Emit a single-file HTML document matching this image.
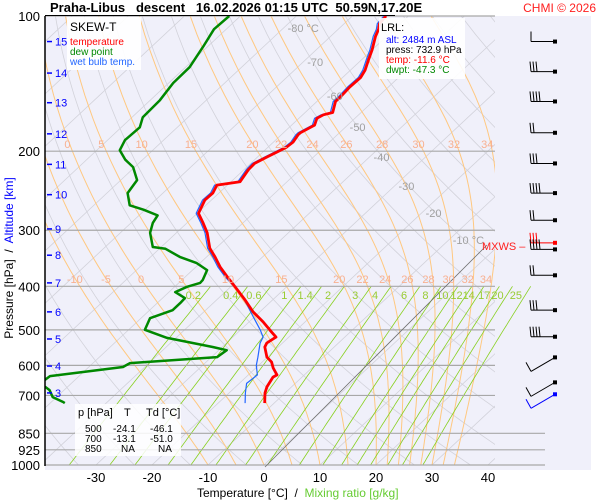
<!DOCTYPE html>
<html><head><meta charset="utf-8"><style>
body{margin:0;background:#fff;}
svg{display:block;font-family:"Liberation Sans",Arial,sans-serif;}
</style></head><body>
<svg id="c" width="600" height="500" viewBox="0 0 600 500" xmlns="http://www.w3.org/2000/svg">
<defs>
<clipPath id="cp"><rect x="45" y="16" width="450" height="449"/></clipPath>
<clipPath id="cp2"><rect x="45" y="16" width="500" height="449"/></clipPath>
</defs>
<rect x="45" y="16" width="546" height="454" fill="#f0f0fa"/>
<g id="grid"></g>
<g id="series"></g>
<g id="labels"></g>
</svg>
<script>
// ---- data ----
const tempP=[728,691,670,637,630,608,590,575,546,535,519,506,480,456,429,401,381,362,344,329,304,288,275,257,248,238,234,220,213,206,201,196,191,184,182,175,169,166,164,155,151,144,137,132,125,119,111,107,104,100];
const tempT=[-11.7,-13.6,-14.4,-15.2,-14.9,-16.9,-18.3,-20.1,-22.4,-22.8,-22.3,-24.0,-27.5,-31.2,-34.9,-39.2,-42.5,-45.7,-48.5,-51.1,-54.5,-57.3,-59.8,-61.2,-61.1,-61.9,-58.4,-59.2,-59.3,-58.3,-57.5,-56.7,-56.5,-57.0,-57.0,-55.9,-56.8,-56.3,-55.1,-56.7,-56.7,-56.9,-56.8,-57.4,-58.8,-60,-62,-62.8,-63.7,-64];
const dewP=[728,724,706,681,670,657,647,634,605,593,575,555,546,521,500,471,452,436,425,412,401,393,387,368,355,344,330,327,304,289,278,270,264,248,232,217,209,199,189,177,168,154,141,130,117,107,100];
const dewT=[-47.4,-47.9,-50.7,-52.6,-54.0,-57.4,-55.4,-55.2,-43.9,-43.4,-29.0,-28.6,-31.7,-41.6,-47.1,-48.4,-45.9,-45.9,-46.0,-48.9,-47.8,-46.2,-46.3,-47.4,-50.6,-54.8,-58.9,-61.5,-64.7,-66.1,-66.7,-70.3,-73.6,-76.3,-77.1,-80.3,-83.1,-85.9,-86.9,-86.7,-88.1,-88.3,-89.2,-89.3,-90.8,-92.2,-92.0];
const wbP=[728,691,658,630,600,575,535,519,500,468,440,414,381,362,344,329,304,288,275,257,248,238,234,220,213,206,201,196,191,184,182,175,169,166,164,155,151,144,137,132,125,119,111,107,104,100];
const wbT=[-15.2,-17.1,-18.7,-18.4,-20.4,-21.7,-24.0,-24.6,-26.5,-30.2,-33.6,-37.1,-42.9,-46.1,-48.9,-51.5,-54.9,-57.7,-60.2,-61.6,-61.5,-62.3,-58.8,-59.6,-59.7,-58.7,-57.9,-57.1,-56.9,-57.4,-57.4,-56.3,-57.2,-56.7,-55.5,-57.1,-57.1,-57.3,-57.2,-57.8,-59.2,-60.4,-62.4,-63.2,-64.1,-64.4];
const pTicks=[100,200,300,400,500,600,700,850,925,1000];
const tTicks=[-30,-20,-10,0,10,20,30,40];
const kmVals=[15,14,13,12,11,10,9,8,7,6,5,4,3];
const kmP=[114,134,156,183,214,250,298,341,393,456,524,602,691];
const mixW=[0.2,0.4,0.6,1,1.4,2,3,4,6,8,10,12,14,17,20,25];
const moistTW=[-10,-5,0,5,10,15,20,22,24,26,28,30,32,34];
const barbP=[114,133,155,182,213,248,285,320,331,378,452,518,600,682,725];

// ---- axes ----
const yP=p=>16+195*Math.log(p/100);
const xT=(T,p)=>264+5.6*T+1.07*(465-yP(p));
const NS="http://www.w3.org/2000/svg";
function mk(tag,attrs,parent){const e=document.createElementNS(NS,tag);for(const k in attrs)e.setAttribute(k,attrs[k]);parent.appendChild(e);return e;}
const grid=document.getElementById('grid'),ser=document.getElementById('series'),lab=document.getElementById('labels');
const g1=mk('g',{'clip-path':'url(#cp)'},grid);
const g2=mk('g',{'clip-path':'url(#cp2)'},grid);
function pts(ps,fn){return ps.map(p=>xT(fn(p),p).toFixed(1)+','+yP(p).toFixed(1)).join(' ');}
const pr=[];for(let p=1050;p>=95;p-=10)pr.push(p);
for(let T=-140;T<=50;T+=10){const l=mk('polyline',{points:pts([1050,95],()=>T),fill:'none',stroke:'#d2d2da','stroke-width':0.8},g1);

}
for(let th=230;th<=500;th+=10){const l=mk('polyline',{points:pts(pr,p=>th*Math.pow(p/1000,0.286)-273.15),fill:'none',stroke:'#d2d2da','stroke-width':0.8},g1);

}
function es(T){return 6.112*Math.exp(17.67*T/(T+243.5));}
function dTdp(T,p){const Tk=T+273.15,rs=0.622*es(T)/(p-es(T));return (287*Tk+2.5e6*rs)/(1004+2.5e6*2.5e6*rs*0.622/(287*Tk*Tk))/p;}
function moist(tw){let T=tw,res=[];for(let p=1000;p>=95;p-=2){if(p%10===0)res.push([p,T]);T-=dTdp(T,p)*2;}
let T2=tw;for(let p=1000;p<1050;p+=2){T2+=dTdp(T2,p)*2;}
res.unshift([1050,T2]);return res;}
const mcurves={};
moistTW.forEach(tw=>{const c=moist(tw);mcurves[tw]=c;const l=mk('polyline',{points:c.map(a=>xT(a[1],a[0]).toFixed(1)+','+yP(a[0]).toFixed(1)).join(' '),fill:'none',stroke:'#ffc880','stroke-width':1},g1);

});
function tdFromE(e){const a=Math.log(e/6.112);return 243.5*a/(17.67-a);}
const mrT=(w,p)=>tdFromE(w*p/(622+w));
mixW.forEach(w=>{const ps=[];for(let p=1050;p>=400;p-=10)ps.push(p);
const l=mk('polyline',{points:pts(ps,p=>mrT(w,p)),fill:'none',stroke:'#88d020','stroke-width':0.8},g2);


const t=mk('text',{x:xT(mrT(w,430),430)-6,y:299,'font-size':11,fill:'#99cc33','text-anchor':'middle'},lab);t.textContent=String(w);

});
moistTW.forEach(tw=>{const c=mcurves[tw];[[400,283],[200,148]].forEach(([pp,yy])=>{if(pp===200&&tw<0)return;const v=c.find(a=>a[0]===pp)[1];
const t=mk('text',{x:xT(v,pp)-5,y:yy,'font-size':11,fill:'#f8b090','text-anchor':'middle'},lab);t.textContent=String(tw);

});});
pTicks.forEach(p=>{const xe=p>=850?545:495;const l=mk('line',{x1:45,x2:xe,y1:yP(p),y2:yP(p),stroke:'#a8a8a8','stroke-width':1.2},grid);


const t=mk('text',{x:40,y:yP(p)+5,'font-size':13,'text-anchor':'end',fill:'#000'},lab);t.textContent=String(p);

});
const dl=mk('line',{x1:265,y1:467,x2:487,y2:245,stroke:'#707070','stroke-width':0.8},grid);


[[-80,28,'-80 °C'],[-70,62,'-70'],[-60,96,'-60'],[-50,127,'-50'],[-40,157,'-40'],[-30,186,'-30'],[-20,213,'-20'],[-10,240,'-10 °C']].forEach(([T,y,s])=>{
const p=100*Math.exp((y-16)/195);const t=mk('text',{x:xT(T,p)+4,y:y+4,'font-size':11,fill:'#a0a0a0','text-anchor':'start'},lab);t.textContent=s;

});
tTicks.forEach(T=>{const t=mk('text',{x:xT(T,1000),y:482,'font-size':13,'text-anchor':'middle',fill:'#000'},lab);t.textContent=String(T);

});
kmVals.forEach((k,i)=>{const y=yP(kmP[i]);mk('line',{x1:47,x2:52,y1:y,y2:y,stroke:'#0000ff','stroke-width':1.5},lab);
const t=mk('text',{x:55,y:y+4,'font-size':11,fill:'#0000ff'},lab);t.textContent=String(k);

});
const sc=mk('g',{'clip-path':'url(#cp)'},ser);
function curve(P,T,col,w,name){const l=mk('polyline',{points:P.map((p,i)=>xT(T[i],p).toFixed(1)+','+yP(p).toFixed(1)).join(' '),fill:'none',stroke:col,'stroke-width':w,'stroke-linejoin':'round'},sc);

}
curve(dewP,dewT,'#008800',2.5,'dew-point-line');
curve(wbP,wbT,'#2266ff',1.2,'wet-bulb-line');
curve(tempP,tempT,'#ff0000',2.8,'temperature-line');
barbP.forEach((p,i)=>{const y=yP(p);const col=i===7?'#ff0000':(i===14?'#0000ff':'#000');const g=mk('g',{},ser);


let y2=y;if(i>=12){y2=y-8;}
mk('line',{x1:531,y1:y+(i>=12?6:0),x2:555,y2:y2,stroke:col,'stroke-width':1},g);
mk('rect',{x:553,y:y2-2,width:4,height:4,fill:col},g);
if(i<12){const n=i===0?1:(i%3)+2;for(let k=0;k<n;k++)mk('line',{x1:531+k*3,y1:y,x2:531+k*3-(i===0?0:1),y2:y-10,stroke:col,'stroke-width':1},g);}
else mk('line',{x1:531,y1:y+6,x2:526,y2:y-3,stroke:col,'stroke-width':1},g);});
</script>
<svg width="600" height="500" style="position:absolute;left:0;top:0" xmlns="http://www.w3.org/2000/svg">
<line x1="45" y1="16" x2="45" y2="466" stroke="#000" stroke-width="1.5"/>
<line x1="45" y1="15.5" x2="395" y2="15.5" stroke="#000" stroke-width="1"/>
<text x="50" y="12" style="white-space:pre" font-family="Liberation Sans, sans-serif" font-size="13" font-weight="bold">Praha-Libus   descent   16.02.2026 01:15 UTC  50.59N,17.20E</text>
<text x="596" y="12" text-anchor="end" font-family="Liberation Sans, sans-serif" font-size="12" fill="#ff2020">CHMI © 2026</text>
<g font-family="Liberation Sans, sans-serif">
<rect x="67" y="17" width="74" height="53" fill="#fff" opacity="0.9"/>
<text x="70" y="31" font-size="12" fill="#000">SKEW-T</text>
<text x="70" y="45" font-size="10" fill="#ff0000">temperature</text>
<text x="70" y="55" font-size="10" fill="#008800">dew point</text>
<text x="70" y="65" font-size="10" fill="#2266ff">wet bulb temp.</text>
</g>
<g font-family="Liberation Sans, sans-serif" font-size="10">
<rect x="379" y="18" width="86" height="61" fill="#fff" opacity="0.9"/>
<text x="381" y="31" fill="#000" font-size="11">LRL:</text>
<text x="386" y="43" fill="#0000ff">alt: 2484 m ASL</text>
<text x="386" y="53" fill="#000">press: 732.9 hPa</text>
<text x="386" y="63" fill="#ff0000">temp: -11.6 °C</text>
<text x="386" y="73" fill="#008800">dwpt: -47.3 °C</text>
</g>
<text x="482" y="250" font-family="Liberation Sans, sans-serif" font-size="11" fill="#ff2020">MXWS –</text>
<g font-family="Liberation Sans, sans-serif" font-size="11">
<rect x="75" y="404" width="106" height="52" fill="#fff" opacity="0.85"/>
<text x="78" y="416">p [hPa]</text><text x="124" y="416">T</text><text x="146" y="416">Td [°C]</text>
<text x="85" y="432" font-size="10">500</text><text x="113" y="432" font-size="10">-24.1</text><text x="150" y="432" font-size="10">-46.1</text>
<text x="85" y="442" font-size="10">700</text><text x="113" y="442" font-size="10">-13.1</text><text x="150" y="442" font-size="10">-51.0</text>
<text x="85" y="452" font-size="10">850</text><text x="121" y="452" font-size="10">NA</text><text x="158" y="452" font-size="10">NA</text>
</g>
<text x="197" y="497" style="white-space:pre" font-family="Liberation Sans, sans-serif" font-size="12">Temperature [°C]  /  <tspan fill="#66cc33">Mixing ratio [g/kg]</tspan></text>
<text transform="translate(13,258) rotate(-90)" style="white-space:pre" text-anchor="middle" font-family="Liberation Sans, sans-serif" font-size="12">Pressure [hPa]  /  <tspan fill="#0000ff">Altitude [km]</tspan></text>
</svg>
</body></html>
